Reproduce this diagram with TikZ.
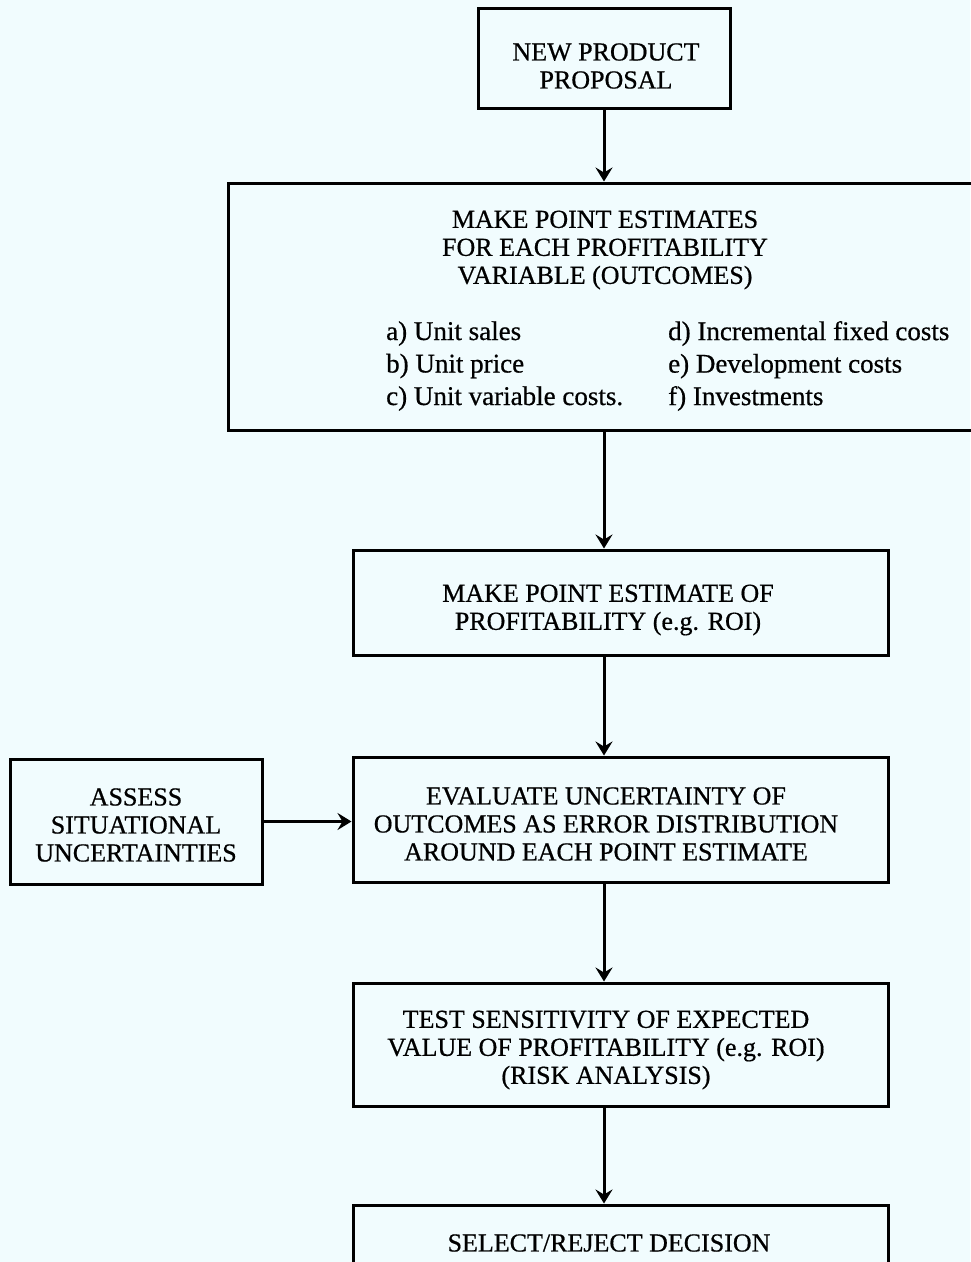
\documentclass[tikz,border=0pt]{standalone}
\usepackage{fontspec}
\setmainfont{Liberation Serif}[FakeBold=0.6]
\usetikzlibrary{positioning}
\usetikzlibrary{arrows.meta}
\definecolor{paper}{RGB}{241,252,254}
\newcommand{\boxfont}{\fontsize{26}{28}\selectfont}
\newcommand{\listfont}{\fontsize{27}{32.5}\selectfont}

\begin{document}
\begin{tikzpicture}[x=1pt,y=-1pt,
	box/.style={draw,line width=3pt,inner sep=0pt,minimum width=535pt},
	txt/.style={align=center,inner sep=0pt,font=\boxfont},
	items/.style={align=left,inner sep=0pt,anchor=west,font=\listfont},
	flow/.style={line width=3pt,-{Stealth[length=14pt,width=17pt,inset=5pt]}}]

	\fill[paper] (0,0) rectangle (970,1262);
	\useasboundingbox (0,0) rectangle (970,1262);

	\coordinate (spine) at (604,0);

	\node[box,minimum width=252pt,minimum height=100pt] (prop) at (604,58) {};
	\node[txt] (propT) at (606,66) {NEW PRODUCT\\PROPOSAL};

	\node[box,minimum width=747pt,minimum height=247pt] (est) at (601.5,306.5) {};
	\node[txt] (estT) at (605,250) {MAKE POINT ESTIMATES\\FOR EACH PROFITABILITY\\VARIABLE (OUTCOMES)};
	\node[items] (estA) at (386,366) {a) Unit sales\\b) Unit price\\c) Unit variable costs.};
	\node[items] (estD) at (668,366) {d) Incremental fixed costs\\e) Development costs\\f) Investments};

	\node[box,minimum height=105pt] (prof) at (620.5,602.5) {};
	\node[txt] (profT) at (608,610) {MAKE POINT ESTIMATE OF\\PROFITABILITY (e.g. ROI)};

	\node[box,minimum height=125pt] (eval) at (620.5,819.5) {};
	\node[txt] (evalT) at (606,824) {EVALUATE UNCERTAINTY OF\\OUTCOMES AS ERROR DISTRIBUTION\\AROUND EACH POINT ESTIMATE};

	\node[box,minimum width=252pt,minimum height=125pt] (assess) at (136,821.5) {};
	\node[txt] (assessT) at (136,825) {ASSESS\\SITUATIONAL\\UNCERTAINTIES};

	\node[box,minimum height=123pt] (test) at (620.5,1044.5) {};
	\node[txt] (testT) at (606,1050) {TEST SENSITIVITY OF EXPECTED\\VALUE OF PROFITABILITY (e.g. ROI)\\(RISK ANALYSIS)};

	\node[box,minimum height=85pt] (dec) at (620.5,1247.5) {};
	\node[txt] (decT) at (609,1243) {SELECT/REJECT DECISION};

	\draw[flow] (prop.south) -- (prop.south |- est.north);
	\draw[flow] (est.south -| spine) -- (prof.north -| spine);
	\draw[flow] (prof.south -| spine) -- (eval.north -| spine);
	\draw[flow] (eval.south -| spine) -- (test.north -| spine);
	\draw[flow] (test.south -| spine) -- (dec.north -| spine);
	\draw[flow] (assess.east) -- (assess.east -| eval.west);

\end{tikzpicture}
\end{document}
